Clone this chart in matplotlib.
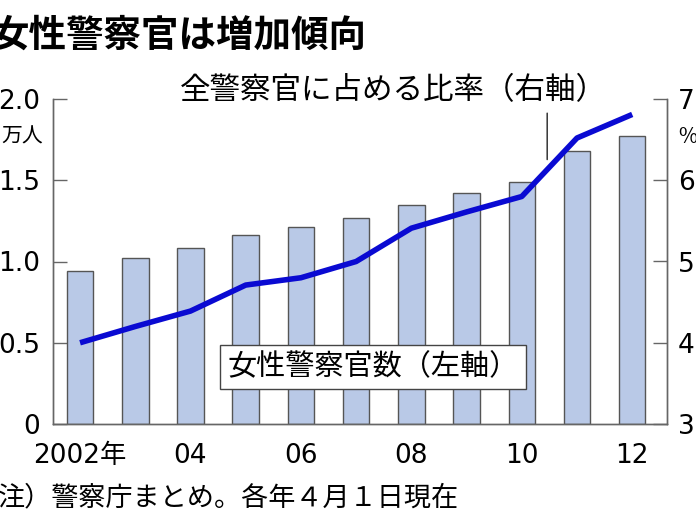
import matplotlib
matplotlib.use("Agg")
import matplotlib.pyplot as plt
import numpy as np

plt.rcParams['font.family'] = ['Noto Sans CJK JP', 'DejaVu Sans']

years = [2002, 2003, 2004, 2005, 2006, 2007, 2008, 2009, 2010, 2011, 2012]
officers = [0.94, 1.02, 1.08, 1.16, 1.21, 1.27, 1.35, 1.42, 1.49, 1.68, 1.77]   # 万人
ratio = [4.0, 4.2, 4.39, 4.71, 4.8, 5.0, 5.41, 5.61, 5.8, 6.52, 6.81]          # %
xtick_years = [2002, 2004, 2006, 2008, 2010, 2012]
xtick_labels = ['2002年', '04', '06', '08', '10', '12']
left_ticks = [0, 0.5, 1.0, 1.5, 2.0]
left_labels = ['0', '0.5', '1.0', '1.5', '2.0']
right_ticks = [3, 4, 5, 6, 7]
right_labels = ['3', '4', '5', '6', '7']

title = '女性警察官は増加傾向'
line_label = '全警察官に占める比率（右軸）'
bar_label = '女性警察官数（左軸）'
note = '注）警察庁まとめ。各年４月１日現在'

W, H = 696, 522
fig = plt.figure(figsize=(W / 100, H / 100), dpi=100)
ax = fig.add_axes([53 / W, 1 - 424 / H, (667 - 53) / W, (424 - 99) / H])
ax2 = ax.twinx()

bar_color = '#b9c9e7'
edge_color = '#555555'
axis_color = '#666666'
line_color = '#0a0ad2'
tick_family = ['DejaVu Sans', 'Noto Sans CJK JP']

ax.bar(years, officers, width=0.48, color=bar_color, edgecolor=edge_color, linewidth=1.0, zorder=2)
ax2.plot(years, ratio, color=line_color, linewidth=4.0, solid_capstyle='butt', zorder=3)

ax.set_xlim(2001.51, 2012.63)
ax.set_ylim(0, 2.0)
ax2.set_ylim(3, 7)

ax.set_yticks(left_ticks)
ax.set_yticklabels(left_labels, family=tick_family)
ax2.set_yticks(right_ticks)
ax2.set_yticklabels(right_labels, family=tick_family)
ax.set_xticks(xtick_years)
ax.set_xticklabels(xtick_labels, family=tick_family)

for a in (ax, ax2):
    a.spines['top'].set_visible(False)
    for s in ('left', 'right', 'bottom'):
        a.spines[s].set_color(axis_color)
        a.spines[s].set_linewidth(1.0)
ax.tick_params(axis='y', direction='in', length=10, width=1.0, color=axis_color,
               labelsize=19, pad=9.5)
ax2.tick_params(axis='y', direction='in', length=10, width=1.0, color=axis_color,
                labelsize=19, pad=8)
ax.tick_params(axis='x', length=0, labelsize=19, pad=14)
ax2.patch.set_visible(False)

# unit labels
fig.text(43 / W, 1 - 137 / H, '万人', ha='right', va='center', fontsize=15)
fig.text(678 / W, 1 - 137 / H, '%', ha='left', va='center', fontsize=15)

# title & note
fig.text(-9 / W, 1 - 35 / H, title, ha='left', va='center', fontsize=27, fontweight='bold')
fig.text(-2 / W, 1 - 498 / H, note, ha='left', va='center', fontsize=19.5)

# line annotation
fig.text(393 / W, 1 - 91 / H, line_label, ha='center', va='center', fontsize=22)
ax2.annotate('', xy=(2010.46, 6.22), xytext=(2010.46, 6.86),
             arrowprops=dict(arrowstyle='-', color='#222222', lw=1.0))

# bar label box
ax.text(0.521, 0.175, bar_label, transform=ax.transAxes, ha='center', va='center',
        fontsize=21, zorder=5,
        bbox=dict(boxstyle='square,pad=0.24', facecolor='white', edgecolor='#444444', linewidth=1.0))

fig.savefig('out.png', dpi=100)
